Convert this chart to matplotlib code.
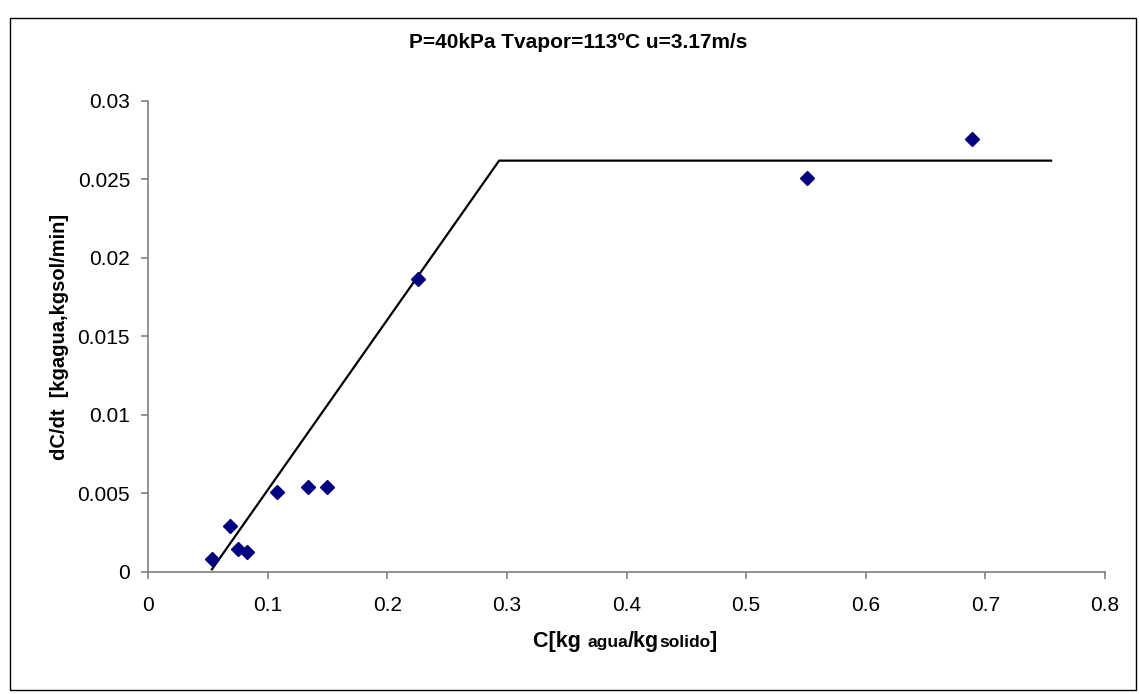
import matplotlib.pyplot as plt
from matplotlib.patches import Rectangle
from matplotlib.ticker import FuncFormatter, MultipleLocator
from matplotlib.offsetbox import TextArea, HPacker, AnchoredOffsetbox

plt.rcParams['font.family'] = ['Liberation Sans', 'DejaVu Sans']

# Datos experimentales
humedad = [0.0534, 0.0685, 0.0752, 0.0825, 0.108, 0.134, 0.150, 0.2256, 0.551, 0.689]
velocidad = [0.00082, 0.00293, 0.00146, 0.00127, 0.0051, 0.0054, 0.0054, 0.01865, 0.0251, 0.0276]

# Recta de ajuste (periodo decreciente + constante)
ajuste_x = [0.0534, 0.2935, 0.755]
ajuste_y = [0.00017, 0.0262, 0.0262]

titulo = "P=40kPa Tvapor=113ºC u=3.17m/s"
gris = '#808080'

fig = plt.figure(figsize=(11.39, 6.94), dpi=100)
ax = fig.add_axes([0.1300, 0.1758, 0.8401, 0.6787])

ax.plot(ajuste_x, ajuste_y, color='black', lw=1.6, zorder=2)
ax.plot(humedad, velocidad, 'D', color='#000080', ms=7, zorder=3)

ax.set_xlim(0, 0.8)
ax.set_ylim(0, 0.03)
ax.xaxis.set_major_locator(MultipleLocator(0.1))
ax.yaxis.set_major_locator(MultipleLocator(0.005))
fmt = FuncFormatter(lambda v, p: '%g' % round(v, 4))
ax.xaxis.set_major_formatter(fmt)
ax.yaxis.set_major_formatter(fmt)

for s in ['top', 'right']:
    ax.spines[s].set_visible(False)
for s in ['left', 'bottom']:
    ax.spines[s].set_color(gris)
    ax.spines[s].set_linewidth(1.2)
ax.tick_params(direction='out', length=5, width=1.2, color=gris, labelsize=15)
ax.tick_params(axis='y', pad=8)
ax.tick_params(axis='x', pad=12)

ax.set_ylabel("dC/dt  [kgagua,kgsol/min]", fontsize=14.5, fontweight='bold', labelpad=6)

fig.text(0.508, 0.939, titulo, ha='center', va='center', fontsize=15, fontweight='bold')

# Etiqueta del eje x con tamaños mezclados
grande = dict(fontsize=15.5, fontweight='bold')
chico = dict(fontsize=12.5, fontweight='bold')
partes = [TextArea("C[kg ", textprops=grande),
          TextArea("agua", textprops=chico),
          TextArea("/kg", textprops=grande),
          TextArea("solido", textprops=chico),
          TextArea("]", textprops=grande)]
caja = HPacker(children=partes, align='baseline', pad=0, sep=0)
etiqueta = AnchoredOffsetbox(loc='center', child=caja, frameon=False,
                             bbox_to_anchor=(0.549, 0.075), bbox_transform=fig.transFigure,
                             borderpad=0, pad=0)
fig.add_artist(etiqueta)

# Marco del gráfico
fig.add_artist(Rectangle((0.0088, 0.0058), 0.9886, 0.968, transform=fig.transFigure,
                         fill=False, edgecolor='black', lw=1))

fig.savefig('out.png', dpi=100)
